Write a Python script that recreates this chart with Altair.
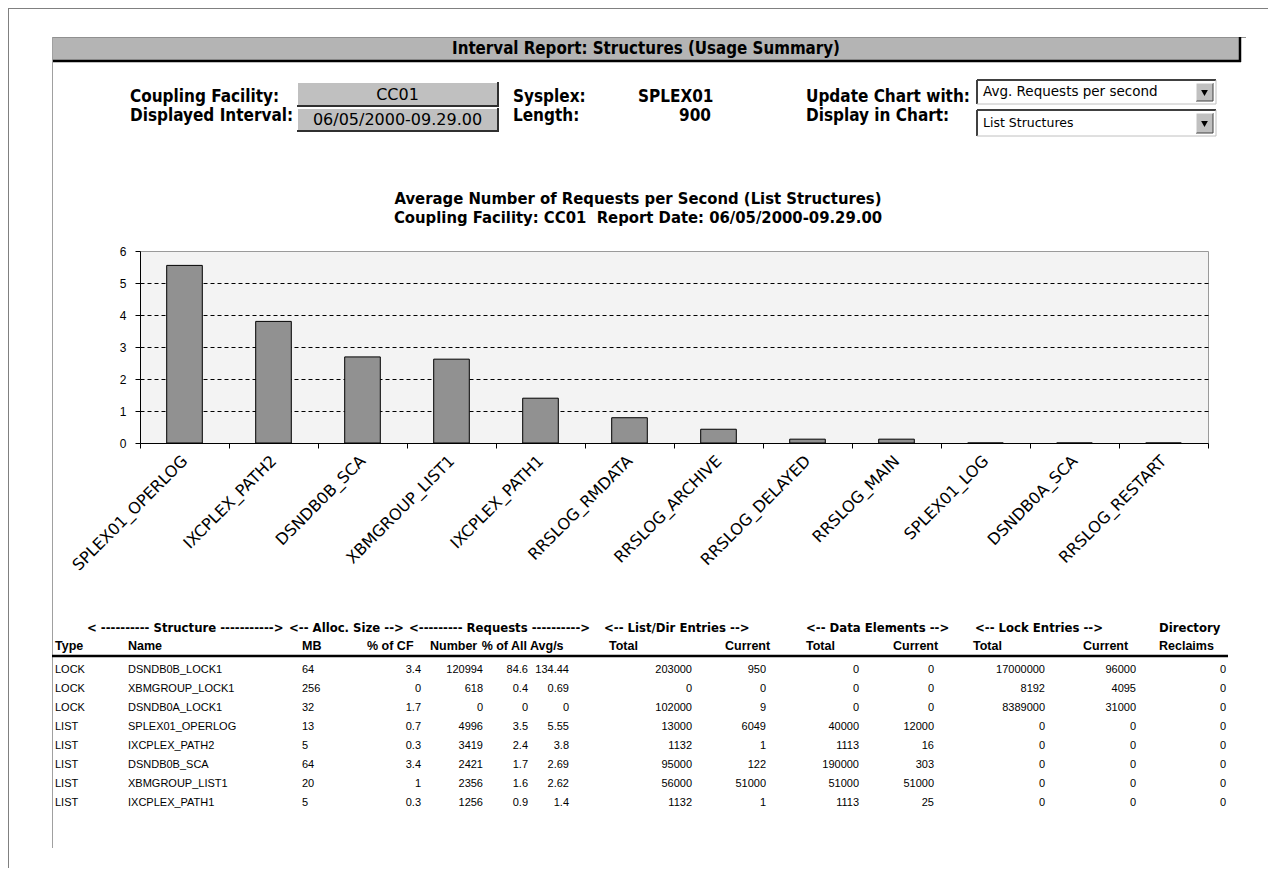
import altair as alt
import pandas as pd

# ---------------- data ----------------
categories = ["SPLEX01_OPERLOG", "IXCPLEX_PATH2", "DSNDB0B_SCA", "XBMGROUP_LIST1",
              "IXCPLEX_PATH1", "RRSLOG_RMDATA", "RRSLOG_ARCHIVE", "RRSLOG_DELAYED",
              "RRSLOG_MAIN", "SPLEX01_LOG", "DSNDB0A_SCA", "RRSLOG_RESTART"]
avg_requests = [5.55, 3.8, 2.69, 2.62, 1.4, 0.79, 0.43, 0.12, 0.12, 0, 0, 0]
y_ticks = [0, 1, 2, 3, 4, 5, 6]

chart_title = ["Average Number of Requests per Second (List Structures)",
               "Coupling Facility: CC01\u00a0 Report Date: 06/05/2000-09.29.00"]
report_title = "Interval Report: Structures (Usage Summary)"

row_type = ["LOCK", "LOCK", "LOCK", "LIST", "LIST", "LIST", "LIST", "LIST"]
row_name = ["DSNDB0B_LOCK1", "XBMGROUP_LOCK1", "DSNDB0A_LOCK1", "SPLEX01_OPERLOG",
            "IXCPLEX_PATH2", "DSNDB0B_SCA", "XBMGROUP_LIST1", "IXCPLEX_PATH1"]
alloc_mb = [64, 256, 32, 13, 5, 64, 20, 5]
pct_cf = [3.4, 0, 1.7, 0.7, 0.3, 3.4, 1, 0.3]
req_number = [120994, 618, 0, 4996, 3419, 2421, 2356, 1256]
req_pct_all = [84.6, 0.4, 0, 3.5, 2.4, 1.7, 1.6, 0.9]
req_avg = [134.44, 0.69, 0, 5.55, 3.8, 2.69, 2.62, 1.4]
list_total = [203000, 0, 102000, 13000, 1132, 95000, 56000, 1132]
list_current = [950, 0, 9, 6049, 1, 122, 51000, 1]
data_total = [0, 0, 0, 40000, 1113, 190000, 51000, 1113]
data_current = [0, 0, 0, 12000, 16, 303, 51000, 25]
lock_total = [17000000, 8192, 8389000, 0, 0, 0, 0, 0]
lock_current = [96000, 4095, 31000, 0, 0, 0, 0, 0]
dir_reclaims = [0, 0, 0, 0, 0, 0, 0, 0]

group_headers = ["< ---------- Structure ----------->", "<-- Alloc. Size -->",
                 "<--------- Requests ---------->", "<-- List/Dir Entries -->",
                 "<-- Data Elements -->", "<-- Lock Entries -->", "Directory"]
col_headers = ["Type", "Name", "MB", "% of CF", "Number", "% of All", "Avg/s",
               "Total", "Current", "Total", "Current", "Total", "Current", "Reclaims"]

# ---------------- layout ----------------
PX, PY = 140, 251          # page position of plot origin
W, H = 1068, 192           # plot size
BOLDF = "DejaVu Sans Condensed, DejaVu Sans, sans-serif"
REG = "Liberation Sans, Arial, sans-serif"
WIDE = "DejaVu Sans, sans-serif"

one = pd.DataFrame({"k": [0]})


def rx(x):
    return x - PX


def ry(y):
    return y - PY


def box(x1, y1, x2, y2, fill):
    return alt.Chart(one).mark_rect(fill=fill, strokeWidth=0).encode(
        x=alt.value(rx(x1)), x2=alt.value(rx(x2)), y=alt.value(ry(y1)), y2=alt.value(ry(y2)))


def line(x1, y1, x2, y2, color, w=1):
    return alt.Chart(one).mark_rule(color=color, strokeWidth=w).encode(
        x=alt.value(rx(x1)), x2=alt.value(rx(x2)), y=alt.value(ry(y1)), y2=alt.value(ry(y2)))


def label(txt, x, y, size, font=BOLDF, bold=True, align="left"):
    return alt.Chart(one).mark_text(text=txt, font=font, fontSize=size,
                                    fontWeight="bold" if bold else "normal",
                                    align=align, baseline="middle", color="black").encode(
        x=alt.value(rx(x)), y=alt.value(ry(y)))


def button(x1, y1, x2, y2, txt):
    return [box(x1, y1, x2, y2, "#c0c0c0"),
            line(x1, y1 + 0.5, x2, y1 + 0.5, "#ffffff"), line(x1 + 0.5, y1, x1 + 0.5, y2, "#ffffff"),
            line(x1, y2, x2 + 1, y2, "#303030", 2), line(x2, y1, x2, y2 + 1, "#303030", 2),
            label(txt, (x1 + x2) / 2, (y1 + y2) / 2 + 0.5, 16, font=WIDE, bold=False,
                  align="center")]


def dropdown(x1, y1, x2, y2, txt, size):
    ax1, ax2 = x2 - 20, x2 - 3
    return [box(x1, y1, x2, y2, "#ffffff"),
            line(x1, y1, x2, y1, "#404040", 2), line(x1, y1, x1, y2, "#404040", 2),
            line(x1, y2, x2, y2, "#c0c0c0"), line(x2, y1, x2, y2, "#c0c0c0"),
            box(ax1, y1 + 3, ax2, y2 - 3, "#c0c0c0"),
            line(ax1, y2 - 3, ax2, y2 - 3, "#404040"), line(ax2, y1 + 3, ax2, y2 - 3, "#404040"),
            line(ax1, y1 + 3, ax2, y1 + 3, "#ffffff"), line(ax1, y1 + 3, ax1, y2 - 3, "#ffffff"),
            alt.Chart(one).mark_point(shape="triangle-down", filled=True, color="black",
                                      size=45, opacity=1).encode(
                x=alt.value(rx((ax1 + ax2) / 2)), y=alt.value(ry((y1 + y2) / 2 + 1))),
            label(txt, x1 + 6, (y1 + y2) / 2, size, font=WIDE, bold=False)]


decor = []
# screenshot frame
decor += [line(8, 8.5, 1268, 8.5, "#808080"), line(8.5, 8, 8.5, 868, "#808080")]
# report header band
decor += [box(52, 37, 1240, 61, "#b4b4b4"),
          line(52, 37.5, 1246, 37.5, "#909090"),
          line(52, 61, 1241, 61, "black", 2.5),
          line(1240, 37, 1240, 62, "black", 2.5),
          line(52.5, 37, 52.5, 848, "#a0a0a0"),
          label(report_title, 646, 49, 16.8, align="center")]
# controls
decor += [label("Coupling Facility:", 130, 97, 17), label("Displayed Interval:", 130, 116, 17)]
decor += button(297, 82, 498, 106, "CC01")
decor += button(297, 108, 498, 131, "06/05/2000-09.29.00")
decor += [label("Sysplex:", 513, 97, 17), label("SPLEX01", 638, 97, 17),
          label("Length:", 513, 116, 17), label("900", 711, 116, 17, align="right"),
          label("Update Chart with:", 806, 97, 17), label("Display in Chart:", 806, 116, 17)]
decor += dropdown(977, 80, 1216, 104, "Avg. Requests per second", 13.5)
decor += dropdown(977, 110, 1216, 136, "List Structures", 12.5)
# chart title
decor += [label(chart_title[0], 638, 199, 16.5, align="center"),
          label(chart_title[1], 638, 218, 16.5, align="center")]

# ---------------- bar chart ----------------
df_bar = pd.DataFrame({"structure": categories, "avg": avg_requests})
bars = alt.Chart(df_bar).mark_bar(fill="#919191", stroke="black", strokeWidth=1,
                                  width=alt.RelativeBandSize(0.4)).encode(
    x=alt.X("structure:N", sort=categories, title=None,
            scale=alt.Scale(paddingInner=0, paddingOuter=0),
            axis=alt.Axis(labelAngle=-45, labelAlign="right", labelBaseline="middle",
                          labelFont=WIDE, labelFontSize=16, labelColor="black",
                          labelPadding=10, labelOverlap=False, labelLimit=0,
                          domainColor="black", tickColor="black", tickSize=5,
                          tickBand="extent", grid=False)),
    y=alt.Y("avg:Q", title=None, scale=alt.Scale(domain=[0, 6], nice=False),
            axis=alt.Axis(values=y_ticks, format="d", labelFont=REG, labelFontSize=12,
                          labelColor="black", labelPadding=9, domainColor="black",
                          tickColor="black", tickSize=5, grid=True, gridColor="black",
                          gridDash=[4, 3], gridWidth=1,
                          gridOpacity={"condition": {"test": "datum.value == 0 || datum.value == 6",
                                                     "value": 0}, "value": 1})),
)


# ---------------- table ----------------
def fmt(v):
    if isinstance(v, str):
        return v
    return str(int(v)) if float(v).is_integer() else str(v)


table_cols = [row_type, row_name, alloc_mb, pct_cf, req_number, req_pct_all, req_avg,
              list_total, list_current, data_total, data_current, lock_total,
              lock_current, dir_reclaims]
col_x = [55, 128, 302, 421, 483, 528, 569, 692, 766, 859, 934, 1045, 1136, 1226]
col_align = ["left", "left", "left"] + ["right"] * 11
head_x = [55, 128, 302, 367, 430, 527, 530, 609, 725, 806, 893, 973, 1083, 1159]
head_align = ["left"] * 5 + ["right"] + ["left"] * 8
group_x = [87, 289, 409, 604, 806, 975, 1159]

row_ids = [f"r{i}" for i in range(len(row_name))]
df_tab = pd.DataFrame({"row": row_ids})
for j, col in enumerate(table_cols):
    df_tab[f"c{j}"] = [fmt(v) for v in col]

table_layers = []
for j in range(len(table_cols)):
    table_layers.append(
        alt.Chart(df_tab).mark_text(font=REG, fontSize=11, align=col_align[j],
                                    baseline="middle", color="black").encode(
            x=alt.value(rx(col_x[j])),
            y=alt.Y("row:O", axis=None,
                    scale=alt.Scale(type="point", domain=row_ids,
                                    range=[ry(670), ry(803)], padding=0)),
            text=alt.Text(f"c{j}:N")))

table_decor = []
for t, x in zip(group_headers, group_x):
    table_decor.append(label(t, x, 628, 13))
for t, x, a in zip(col_headers, head_x, head_align):
    table_decor.append(label(t, x, 646, 12.5, font="Liberation Sans, Arial, sans-serif", align=a))
table_decor.append(line(52, 656, 1228, 656, "black", 2.5))

chart = alt.layer(*decor, bars, *table_decor, *table_layers).resolve_scale(
    x="independent", y="independent"
).properties(
    width=W, height=H,
    padding={"left": PX - 8, "top": PY - 8, "right": 1260 - (PX - 8) - W,
             "bottom": 860 - (PY - 8) - H},
    autosize=alt.AutoSizeParams(type="none"),
).configure_view(fill="#f3f3f3", stroke="#9a9a9a", strokeWidth=1)

chart.save("out.html", embed_options={"renderer": "svg", "actions": False})
